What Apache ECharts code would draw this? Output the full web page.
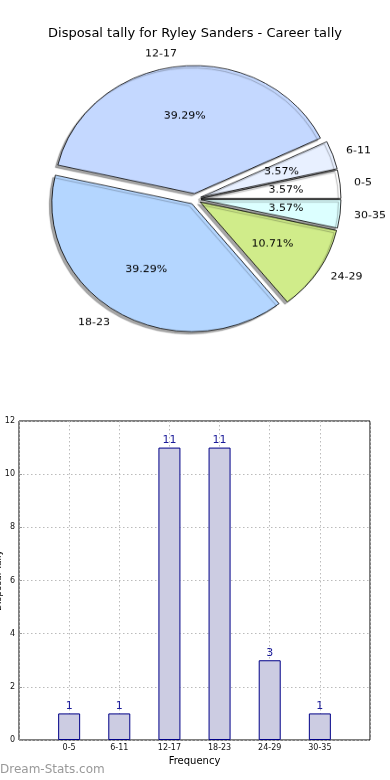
<!DOCTYPE html>
<html>
<head>
<meta charset="utf-8">
<script src="https://cdn.jsdelivr.net/npm/echarts@6/dist/echarts.min.js"></script>
<style>
html,body{margin:0;padding:0;background:#fff;}
#main{position:absolute;left:0;top:0;width:390px;height:780px;}
#pie{position:absolute;left:0;top:0;width:390px;height:400px;transform:scaleY(0.914);transform-origin:195px 199px;}
</style>
</head>
<body>
<div id="main"></div>
<div id="pie"></div>
<script>
const titleText = 'Disposal tally for Ryley Sanders - Career tally';
const categories = ['0-5', '6-11', '12-17', '18-23', '24-29', '30-35'];
const tallies = [1, 1, 11, 11, 3, 1];
const sliceColors = ['#ffffff', '#e8f0ff', '#c4d8ff', '#b4d6ff', '#d0ec8a', '#dcffff'];
const yTicks = [0, 2, 4, 6, 8, 10, 12];
const xAxisName = 'Frequency';
const yAxisName = 'Disposal Tally';
const watermark = 'Dream-Stats.com';

const FONT = 'DejaVu Sans';

// ---------- main chart: title + bar chart ----------
const main = echarts.init(document.getElementById('main'));
main.setOption({
  animation: false,
  title: {
    text: titleText, left: 'center', top: 22,
    textStyle: { fontFamily: FONT, fontSize: 13, fontWeight: 'normal', color: '#000' }
  },
  grid: {
    left: 19, right: 20, top: 421, bottom: 40,
    containLabel: false, outerBoundsMode: 'none',
    show: true, borderColor: '#000', borderWidth: 1, backgroundColor: 'transparent'
  },
  xAxis: {
    type: 'value', min: 0, max: categories.length + 1, interval: 1,
    name: xAxisName, nameLocation: 'middle', nameGap: 16,
    nameTextStyle: { fontFamily: FONT, fontSize: 10, color: '#000' },
    axisLine: { show: false },
    axisTick: { show: true, inside: true, length: 3, lineStyle: { color: '#999' } },
    axisLabel: {
      fontFamily: FONT, fontSize: 8, color: '#111', margin: 4,
      formatter: v => categories[v - 1] || ''
    },
    splitLine: { show: true, lineStyle: { type: [1.5, 2.5], color: '#bbb', width: 1 } }
  },
  yAxis: {
    type: 'value', min: yTicks[0], max: yTicks[yTicks.length - 1], interval: 2,
    name: yAxisName, nameLocation: 'middle', nameGap: 16, nameRotate: 90,
    nameMoveOverlap: false,
    nameTextStyle: { fontFamily: FONT, fontSize: 9, color: '#000' },
    axisLine: { show: false },
    axisTick: { show: true, inside: true, length: 3, lineStyle: { color: '#999' } },
    axisLabel: { fontFamily: FONT, fontSize: 8, color: '#111', margin: 4 },
    splitLine: { show: true, lineStyle: { type: [1.5, 2.5], color: '#bbb', width: 1 } }
  },
  graphic: [{
    type: 'text', left: 0, top: 764,
    style: { text: watermark, fontFamily: FONT, fontSize: 12, fill: '#999' }
  }],
  series: [{
    type: 'bar',
    data: categories.map((c, i) => [i + 1, tallies[i]]),
    barWidth: 22,
    itemStyle: { color: '#ccccE2', borderColor: '#000088', borderWidth: 1 },
    label: { show: true, position: 'top', distance: 2, fontFamily: FONT, fontSize: 11, color: '#1a1a99' },
    z: 2
  }]
});

// ---------- pie chart ----------
const pie = echarts.init(document.getElementById('pie'));
const R = 140;
const pieData = categories.map((c, i) => ({
  name: c, value: tallies[i], selected: true,
  itemStyle: { color: sliceColors[i] }
}));
pie.setOption({
  animation: false,
  series: [{
    type: 'pie',
    center: [195, 199], radius: [0, R],
    startAngle: 0, clockwise: false,
    selectedMode: 'multiple', selectedOffset: 6,
    avoidLabelOverlap: false,
    silent: true,
    itemStyle: {
      borderColor: '#000', borderWidth: 0.8,
      shadowBlur: 1, shadowOffsetX: -2.5, shadowOffsetY: 2.5, shadowColor: 'rgba(0,0,0,0.35)'
    },
    label: {
      show: true, position: 'outside', distanceToLabelLine: 0,
      fontFamily: FONT, fontSize: 11, color: '#000', formatter: '{b}'
    },
    labelLine: { show: false, length: 14, length2: 0 },
    data: pieData
  }, {
    type: 'pie',
    center: [195, 199], radius: [R * 0.18, R],
    startAngle: 0, clockwise: false,
    selectedMode: 'multiple', selectedOffset: 6,
    avoidLabelOverlap: false,
    silent: true,
    itemStyle: { color: 'rgba(0,0,0,0)', borderWidth: 0 },
    label: { show: true, position: 'inside', fontFamily: FONT, fontSize: 11, color: '#000', formatter: '{d}%' },
    labelLine: { show: false },
    data: categories.map((c, i) => ({ name: c, value: tallies[i], selected: true }))
  }]
});
</script>
</body>
</html>
